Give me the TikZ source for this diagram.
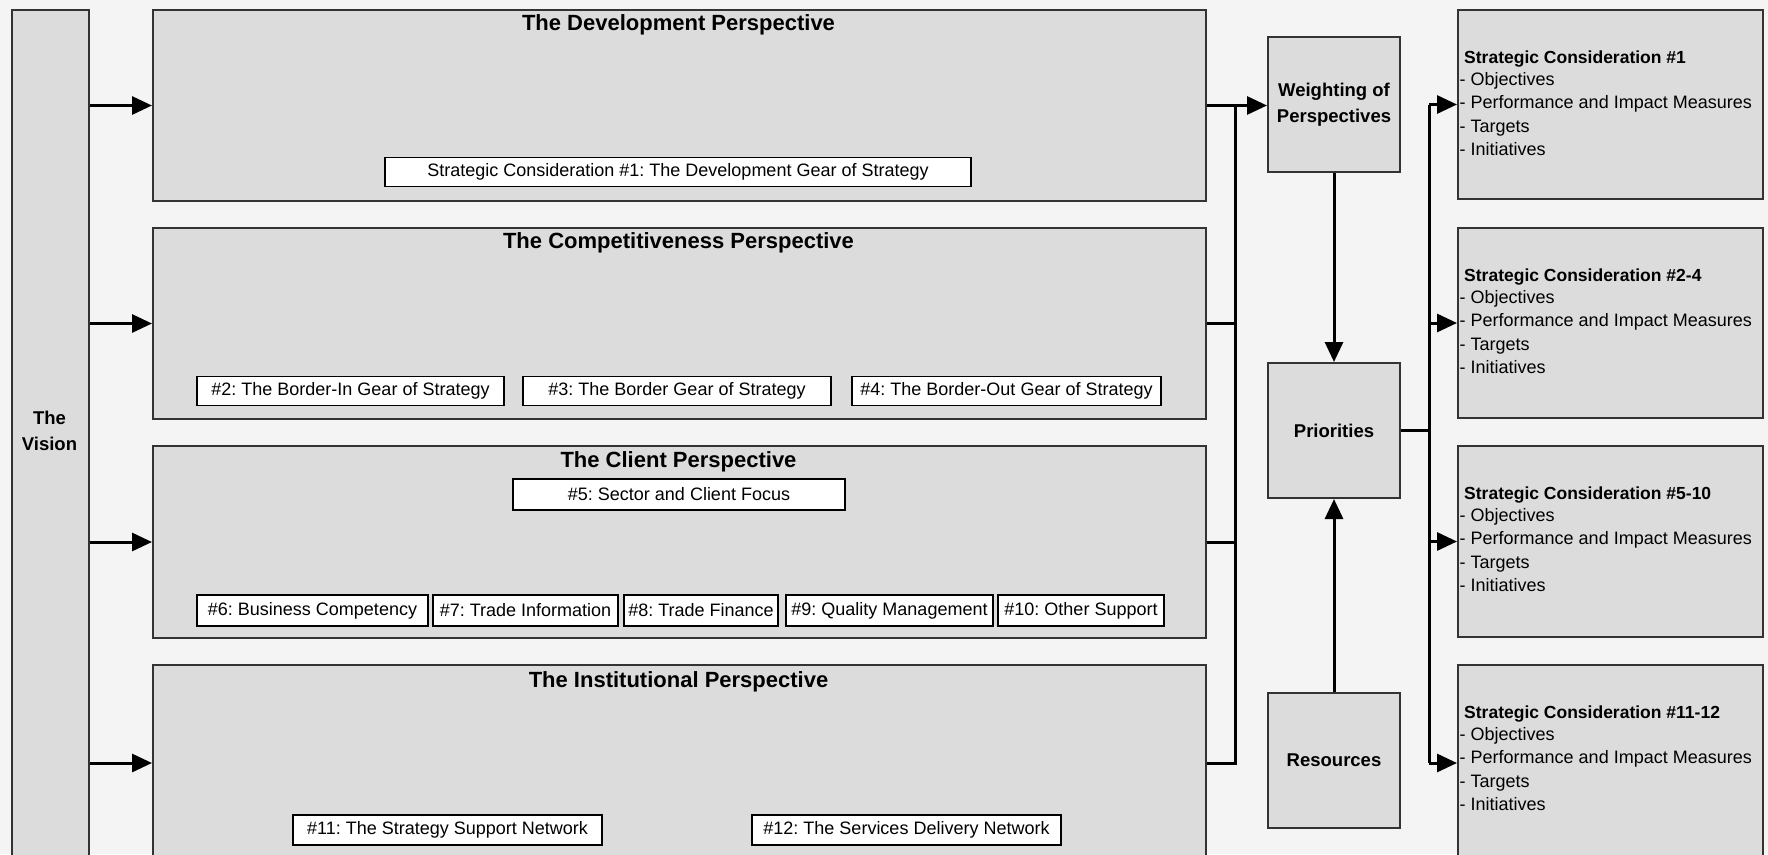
\documentclass[tikz,border=0pt]{standalone}
\usepackage{fontspec}
\setmainfont{Liberation Sans}
\usetikzlibrary{arrows.meta}
\definecolor{bg}{HTML}{F4F4F4}
\definecolor{boxfill}{HTML}{DCDCDC}
\definecolor{boxline}{HTML}{333333}
\frenchspacing
\begin{document}
\begin{tikzpicture}[x=1pt,y=-1pt,
  box/.style={draw=boxline, line width=2pt, fill=boxfill, inner sep=0pt, anchor=north west},
  tag/.style={draw=black, line width=1.3pt, fill=white, inner sep=0pt, minimum height=29pt, font=\fontsize{18}{21}\selectfont},
  ptitle/.style={font=\bfseries\fontsize{22}{26}\selectfont},
  btext/.style={font=\bfseries\fontsize{18.5}{25.5}\selectfont, align=center},
  sctitle/.style={font=\bfseries\fontsize{17.5}{21}\selectfont, anchor=west, inner sep=0pt, text height=13pt, text depth=4pt},
  scitem/.style={font=\fontsize{18}{21}\selectfont, anchor=west, inner sep=0pt, text height=13pt, text depth=4pt},
  conn/.style={draw=black, line width=3pt},
  arr/.style={conn, -{Triangle[length=20pt,width=18pt]}}
]
\fill[bg] (0,0) rectangle (1768,854);
\clip (0,0) rectangle (1768,854);

% The Vision
\node[box, minimum width=77pt, minimum height=851pt] (vision) at (11,9) {};
\node[btext] (visiontxt) at (49.5,431) {The\\Vision};

% Perspectives
\node[box, minimum width=1053pt, minimum height=191pt] (dev) at (152,9) {};
\node[box, minimum width=1053pt, minimum height=191pt] (comp) at (152,227) {};
\node[box, minimum width=1053pt, minimum height=192pt] (client) at (152,445) {};
\node[box, minimum width=1053pt, minimum height=196pt] (inst) at (152,664) {};

\node[ptitle] (devtitle) at (678.5,25) {The Development Perspective};
\node[ptitle] (comptitle) at (678.5,243) {The Competitiveness Perspective};
\node[ptitle] (clienttitle) at (678.5,462) {The Client Perspective};
\node[ptitle] (insttitle) at (678.5,682) {The Institutional Perspective};

\node[tag, minimum width=586pt] (t1) at (678,172) {Strategic Consideration \#1: The Development Gear of Strategy};
\node[tag, minimum width=307pt] (t2) at (350.5,391) {\#2: The Border-In Gear of Strategy};
\node[tag, minimum width=308pt] (t3) at (677,391) {\#3: The Border Gear of Strategy};
\node[tag, minimum width=309pt] (t4) at (1006.5,391) {\#4: The Border-Out Gear of Strategy};
\node[tag, minimum width=332pt, minimum height=31pt] (t5) at (679,494.5) {\#5: Sector and Client Focus};
\node[tag, minimum width=231pt, minimum height=31pt] (t6) at (312.5,610.5) {\#6: Business Competency};
\node[tag, minimum width=185pt, minimum height=31pt] (t7) at (525.5,610.5) {\#7: Trade Information};
\node[tag, minimum width=154pt, minimum height=31pt] (t8) at (701,610.5) {\#8: Trade Finance};
\node[tag, minimum width=207pt, minimum height=31pt] (t9) at (889.5,610.5) {\#9: Quality Management};
\node[tag, minimum width=166pt, minimum height=31pt] (t10) at (1081,610.5) {\#10: Other Support};
\node[tag, minimum width=309pt, minimum height=30pt] (t11) at (447.5,830) {\#11: The Strategy Support Network};
\node[tag, minimum width=309pt, minimum height=30pt] (t12) at (906.5,830) {\#12: The Services Delivery Network};

% Middle column
\node[box, btext, minimum width=132pt, minimum height=135pt] (wt) at (1267,36) {Weighting of\\Perspectives};
\node[box, btext, minimum width=132pt, minimum height=135pt] (pri) at (1267,362) {Priorities};
\node[box, btext, minimum width=132pt, minimum height=135pt] (res) at (1267,692) {Resources};

% Strategic consideration boxes
\node[box, minimum width=305pt, minimum height=189pt] (sc1) at (1457,9) {};
\node[box, minimum width=305pt, minimum height=190pt] (sc2) at (1457,227) {};
\node[box, minimum width=305pt, minimum height=191pt] (sc3) at (1457,445) {};
\node[box, minimum width=305pt, minimum height=196pt] (sc4) at (1457,664) {};

\foreach \i/\t in {1/1, 2/2-4, 3/5-10, 4/11-12} {
  \node[sctitle] (sct\i) at ([shift={(7,50)}]sc\i.north west) {Strategic Consideration \#\t};
  \foreach \j/\s in {1/Objectives, 2/Performance and Impact Measures, 3/Targets, 4/Initiatives} {
    \node[scitem] (sci\i\j) at ([shift={(2.5,48+23.5*\j)}]sc\i.north west) {- \s};
  }
}

% Connectors
\coordinate (lbus) at (1235,0);
\coordinate (rbus) at (1429,0);
\foreach \b in {dev,comp,client,inst} {
  \draw[arr] (vision.east |- \b.west) -- (\b.west);
}
\draw[arr] (dev.east) -- (dev.east -| wt.west);
\draw[conn] (comp.east) -- (comp.east -| lbus);
\draw[conn] (client.east) -- (client.east -| lbus);
\draw[conn] (dev.east -| lbus) -- (inst.east -| lbus) -- (inst.east);
\draw[arr] (wt.south) -- (pri.north);
\draw[arr] (res.north) -- (pri.south);
\draw[conn] (pri.east) -- (pri.east -| rbus);
\draw[conn] (sc1.west -| rbus) -- (sc4.west -| rbus);
\foreach \i in {1,2,3,4} {
  \draw[arr] (sc\i.west -| rbus) -- (sc\i.west);
}
\end{tikzpicture}
\end{document}
